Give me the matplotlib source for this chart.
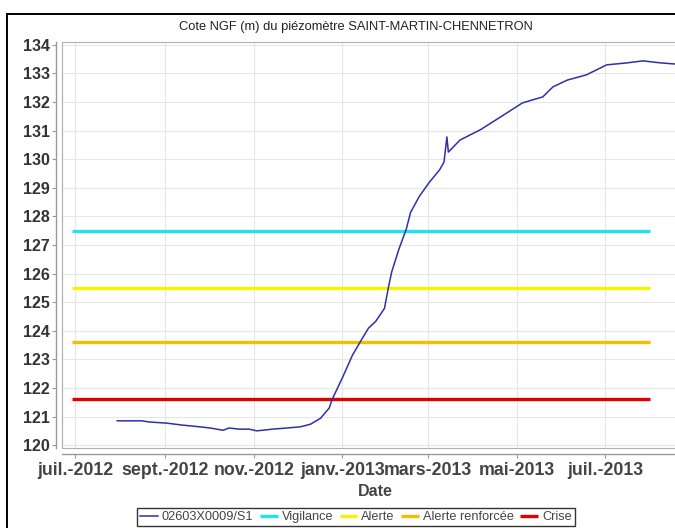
import matplotlib
matplotlib.use("Agg")
import matplotlib.pyplot as plt
from matplotlib.patches import Rectangle
import datetime as dt

plt.rcParams['font.family'] = ['Liberation Sans', 'DejaVu Sans']

# ---- data ----
series_dates = ["2012-07-30", "2012-08-16", "2012-08-21", "2012-09-02", "2012-09-13",
                "2012-09-25", "2012-10-02", "2012-10-11", "2012-10-15", "2012-10-22",
                "2012-10-29", "2012-11-03", "2012-11-07", "2012-11-14", "2012-11-24",
                "2012-12-03", "2012-12-10", "2012-12-17", "2012-12-23", "2012-12-25",
                "2013-01-01", "2013-01-08", "2013-01-14", "2013-01-19", "2013-01-24",
                "2013-01-30", "2013-02-02", "2013-02-04", "2013-02-09", "2013-02-14",
                "2013-02-17", "2013-02-23", "2013-03-02", "2013-03-09", "2013-03-12",
                "2013-03-14", "2013-03-15", "2013-03-23", "2013-04-06", "2013-04-20",
                "2013-05-05", "2013-05-19", "2013-05-26", "2013-06-05", "2013-06-18",
                "2013-07-02", "2013-07-16", "2013-07-27", "2013-08-08", "2013-08-18",
                "2013-08-25"]
series_values = [120.85, 120.85, 120.81, 120.77, 120.70,
                 120.64, 120.60, 120.52, 120.60, 120.56,
                 120.56, 120.50, 120.52, 120.56, 120.60,
                 120.64, 120.73, 120.94, 121.30, 121.60,
                 122.35, 123.15, 123.67, 124.09, 124.33,
                 124.78, 125.58, 126.06, 126.86, 127.55,
                 128.14, 128.70, 129.20, 129.63, 129.90,
                 130.78, 130.25, 130.67, 131.03, 131.48,
                 131.97, 132.18, 132.53, 132.77, 132.95,
                 133.30, 133.37, 133.44, 133.37, 133.33,
                 133.30]
series_name = "02603X0009/S1"

threshold_names = ["Vigilance", "Alerte", "Alerte renforcée", "Crise"]
threshold_values = [127.5, 125.5, 123.6, 121.6]
threshold_colors = ["#22e2ea", "#f4f400", "#f0c000", "#e00000"]
threshold_start = "2012-06-29"
threshold_end = "2013-08-01"

tick_dates = ["2012-07-01", "2012-09-01", "2012-11-01", "2013-01-01",
              "2013-03-01", "2013-05-01", "2013-07-01"]
tick_labels = ["juil.-2012", "sept.-2012", "nov.-2012", "janv.-2013",
               "mars-2013", "mai-2013", "juil.-2013"]
y_ticks = list(range(120, 135))

title = "Cote NGF (m) du piézomètre SAINT-MARTIN-CHENNETRON"
xlabel = "Date"

# ---- figure ----
W, H = 675, 528
fig = plt.figure(figsize=(W / 100, H / 100), dpi=100)
fig.patch.set_facecolor("white")

def fx(px):
    return px / W

def fy(py):
    return 1 - py / H

left_px, right_px, top_px, bottom_px = 62, 688, 42, 448
ax = fig.add_axes([fx(left_px), fy(bottom_px), fx(right_px - left_px), (bottom_px - top_px) / H])
ax.set_facecolor("white")

to_d = lambda s: dt.datetime.strptime(s, "%Y-%m-%d")
sd = [to_d(s) for s in series_dates]

handles = []
h, = ax.plot(sd, series_values, color="#3030a8", lw=1.1, zorder=5, label=series_name)
handles.append(h)
for name, val, col in zip(threshold_names, threshold_values, threshold_colors):
    h, = ax.plot([to_d(threshold_start), to_d(threshold_end)], [val, val],
                 color=col, lw=2.4, solid_capstyle="butt", zorder=4, label=name)
    handles.append(h)

ax.set_xlim(to_d("2012-06-22"), to_d("2013-08-27"))
ax.set_ylim(119.9, 134.1)

for s in ["top", "right"]:
    ax.spines[s].set_visible(False)
for s in ["left", "bottom"]:
    ax.spines[s].set_color("#999999")
    ax.spines[s].set_linewidth(1.0)
    ax.spines[s].set_position(("outward", 4))

ax.set_xticks([to_d(s) for s in tick_dates])
ax.set_xticklabels(tick_labels)
ax.set_yticks(y_ticks)
ax.set_yticklabels([str(v) for v in y_ticks])
ax.tick_params(axis="both", length=3, width=0.8, color="#999999", pad=2)
ax.tick_params(axis="x", labelsize=12.8, labelcolor="#444444", pad=3)
ax.tick_params(axis="y", labelsize=11.5, labelcolor="#333333")
for lab in ax.get_xticklabels() + ax.get_yticklabels():
    lab.set_fontweight("bold")

ax.grid(True, color="#e6e6e6", lw=0.8, ls="-")
ax.set_axisbelow(True)

# plot area border
ax.add_patch(Rectangle((0, 0), 1, 1, transform=ax.transAxes, fill=False,
                       edgecolor="#b0b0b0", lw=0.8, zorder=1, clip_on=False))

# outer chart frame
fig.patches.append(Rectangle((fx(7), -0.1), 2, fy(14) + 0.1, transform=fig.transFigure,
                             fill=False, edgecolor="black", lw=1.4))

fig.text(fx(356), fy(27), title, ha="center", va="center", fontsize=9.3, color="#222222")
fig.text(fx(375), fy(492), xlabel, ha="center", va="center", fontsize=11.5,
         fontweight="bold", color="#444444")

leg = fig.legend(handles=handles, loc="upper center", bbox_to_anchor=(fx(356), fy(508)),
                 ncol=5, fontsize=9.2, frameon=True, fancybox=False, edgecolor="black",
                 borderpad=0.25, handlelength=1.4, handletextpad=0.3, columnspacing=0.5,
                 borderaxespad=0)
leg.get_frame().set_linewidth(1.0)
for t in leg.get_texts():
    t.set_color("#444444")

fig.savefig("out.png", dpi=100, facecolor="white")
